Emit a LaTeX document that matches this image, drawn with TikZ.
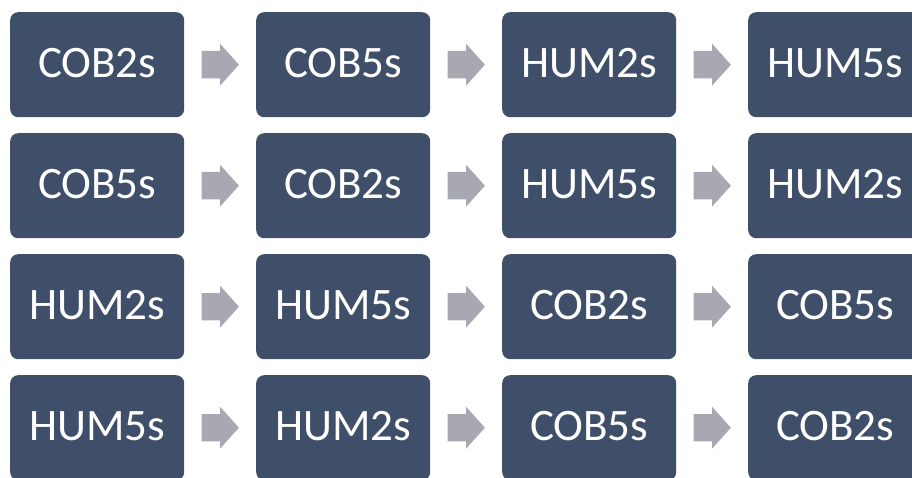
\documentclass[tikz,border=0pt]{standalone}
\usepackage{fontspec}
\setmainfont{Carlito}
\usetikzlibrary{calc}
\definecolor{boxblue}{HTML}{404F69}
\definecolor{arrowgrey}{HTML}{A8A8B2}
\tikzset{
  stagebox/.style={fill=boxblue, rounded corners=8pt, minimum width=174pt, minimum height=105pt, inner sep=0pt, text height=26pt, text depth=0pt, text=white, font=\fontsize{45}{50}\selectfont, anchor=north west},
  flowarrow/.style={fill=arrowgrey}
}
\begin{document}
\begin{tikzpicture}[x=1pt,y=-1pt]
\useasboundingbox (0,0) rectangle (912,478);
\foreach \r/\top/\la/\lb/\lc/\ld in {1/12/COB2s/COB5s/HUM2s/HUM5s, 2/133/COB5s/COB2s/HUM5s/HUM2s, 3/254/HUM2s/HUM5s/COB2s/COB5s, 4/375/HUM5s/HUM2s/COB5s/COB2s}{
  \node[stagebox] (r\r c1) at (10,\top) {\la};
  \node[stagebox] (r\r c2) at (256,\top) {\lb};
  \node[stagebox] (r\r c3) at (502,\top) {\lc};
  \node[stagebox] (r\r c4) at (748,\top) {\ld};
  \foreach \a/\b in {1/2,2/3,3/4}{
    \fill[flowarrow] ($(r\r c\a.east)!0.5!(r\r c\b.west)$) +(-18.5,-13.7) -- +(0,-13.7) -- +(0,-20.8) -- +(18.7,0) -- +(0,20.8) -- +(0,13.7) -- +(-18.5,13.7) -- cycle;
  }
}
\end{tikzpicture}
\end{document}
